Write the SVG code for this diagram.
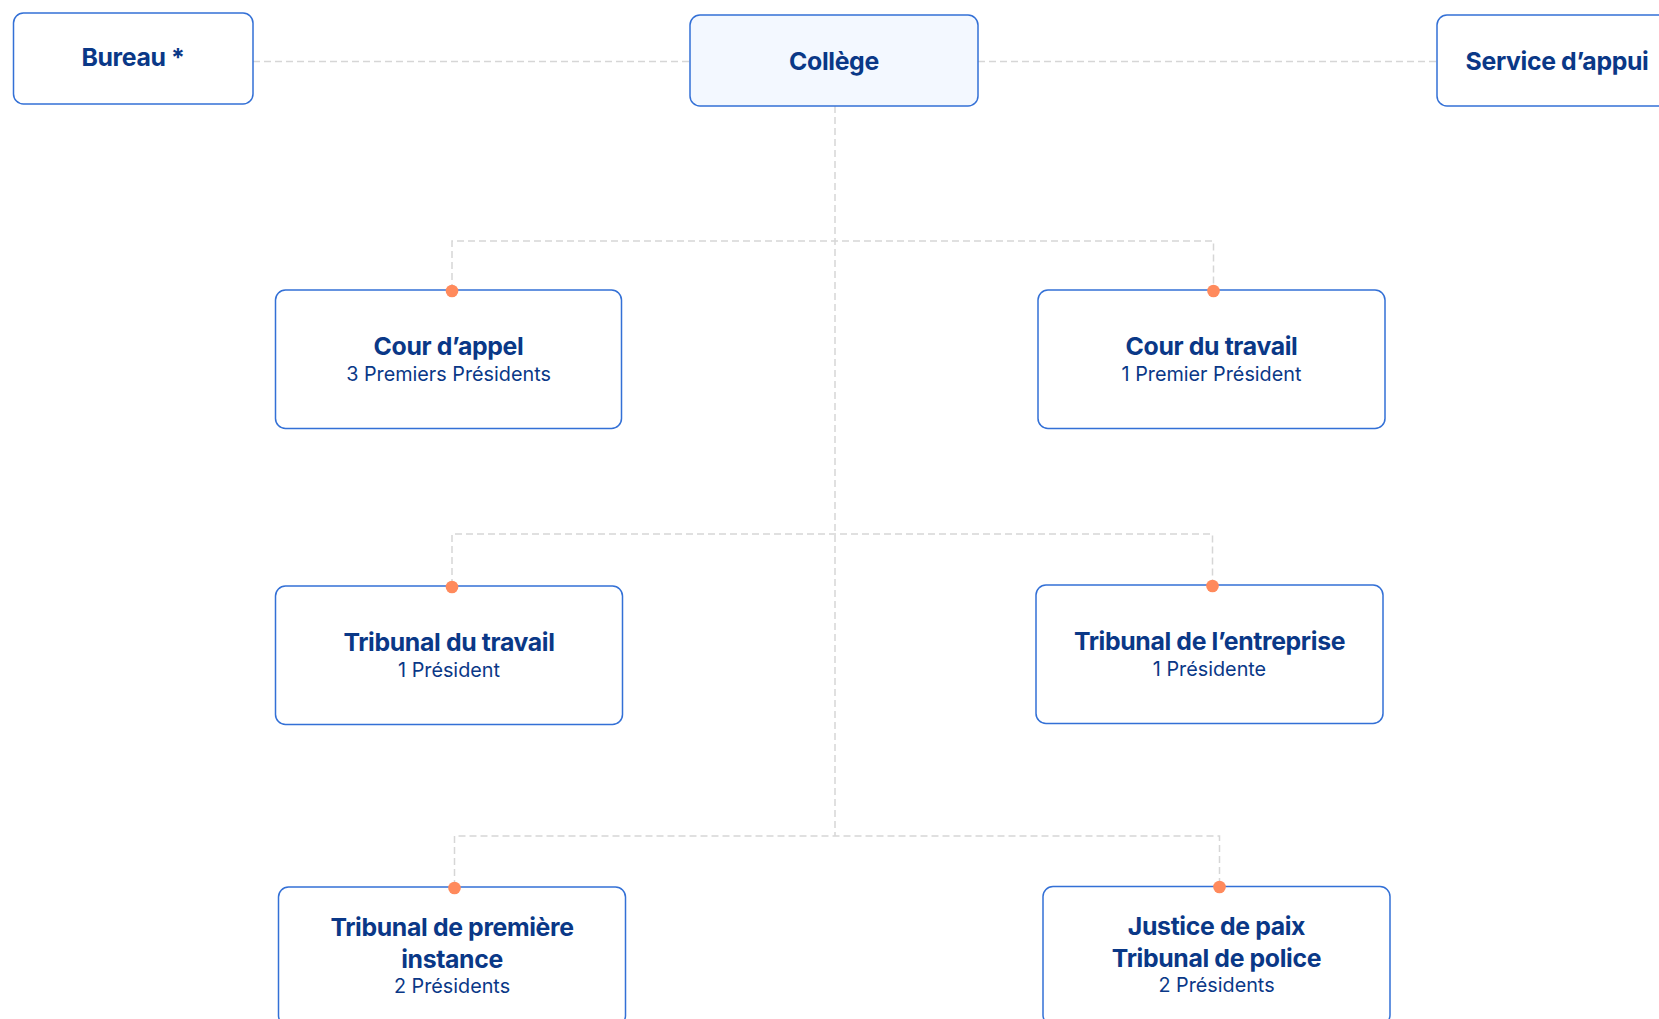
<svg xmlns="http://www.w3.org/2000/svg" width="1659" height="1019" viewBox="0 0 1659 1019">
<style>
.box{fill:#ffffff;stroke:#3370D6;stroke-width:1.5}
.main{fill:#F3F8FF}
.t{font-family:Inter,"Liberation Sans",sans-serif;font-weight:700;font-size:24.8px;fill:#0A3887;text-anchor:middle;letter-spacing:-0.35px}
.s{font-family:Inter,"Liberation Sans",sans-serif;font-weight:400;font-size:19.8px;fill:#0A3887;text-anchor:middle;letter-spacing:0px}
.c{fill:none;stroke:#D6D6D6;stroke-width:1.5;stroke-dasharray:7 4}
.dot{fill:#FF8A5C}
</style>
<rect width="1659" height="1019" fill="#ffffff"/>
<g id="connectors">
<path class="c" d="M253 61.5H690M978 61.5H1437"/>
<path class="c" d="M835 106V836"/>
<path class="c" d="M452 291V241H1213.5V291"/>
<path class="c" d="M452 586V534H1212.5V585"/>
<path class="c" d="M454.5 887V836H1219.5V886"/>
</g>
<g id="bureau"><rect class="box" x="13.5" y="13" width="239.5" height="91" rx="10"/><text class="t" x="133" y="66">Bureau *</text></g>
<g id="college"><rect class="box main" x="690" y="15" width="288" height="91" rx="10"/><text class="t" x="834" y="70">Collège</text></g>
<g id="service"><rect class="box" x="1437" y="15" width="240" height="91" rx="10"/><text class="t" x="1557" y="70">Service d’appui</text></g>
<g id="cour-appel"><rect class="box" x="275.5" y="290" width="346" height="138.5" rx="10"/><text class="t" x="448.5" y="355">Cour d’appel</text><text class="s" x="448.5" y="381">3 Premiers Présidents</text><circle class="dot" cx="452" cy="291" r="6.3"/></g>
<g id="cour-travail"><rect class="box" x="1038" y="290" width="347" height="138.5" rx="10"/><text class="t" x="1211.5" y="355">Cour du travail</text><text class="s" x="1211.5" y="381">1 Premier Président</text><circle class="dot" cx="1213.5" cy="291" r="6.3"/></g>
<g id="tribunal-travail"><rect class="box" x="275.5" y="586" width="347" height="138.5" rx="10"/><text class="t" x="449" y="651">Tribunal du travail</text><text class="s" x="449" y="677">1 Président</text><circle class="dot" cx="452" cy="587" r="6.3"/></g>
<g id="tribunal-entreprise"><rect class="box" x="1036" y="585" width="347" height="138.5" rx="10"/><text class="t" x="1209.5" y="650">Tribunal de l’entreprise</text><text class="s" x="1209.5" y="676">1 Présidente</text><circle class="dot" cx="1212.5" cy="586" r="6.3"/></g>
<g id="tribunal-premiere-instance"><rect class="box" x="278.5" y="887" width="347" height="138.5" rx="10"/><text class="t" x="452" y="936">Tribunal de première</text><text class="t" x="452" y="968">instance</text><text class="s" x="452" y="993">2 Présidents</text><circle class="dot" cx="454.5" cy="888" r="6.3"/></g>
<g id="justice-paix"><rect class="box" x="1043" y="886.5" width="347" height="138.5" rx="10"/><text class="t" x="1216.5" y="935">Justice de paix</text><text class="t" x="1216.5" y="967">Tribunal de police</text><text class="s" x="1216.5" y="992">2 Présidents</text><circle class="dot" cx="1219.5" cy="887" r="6.3"/></g>
</svg>
